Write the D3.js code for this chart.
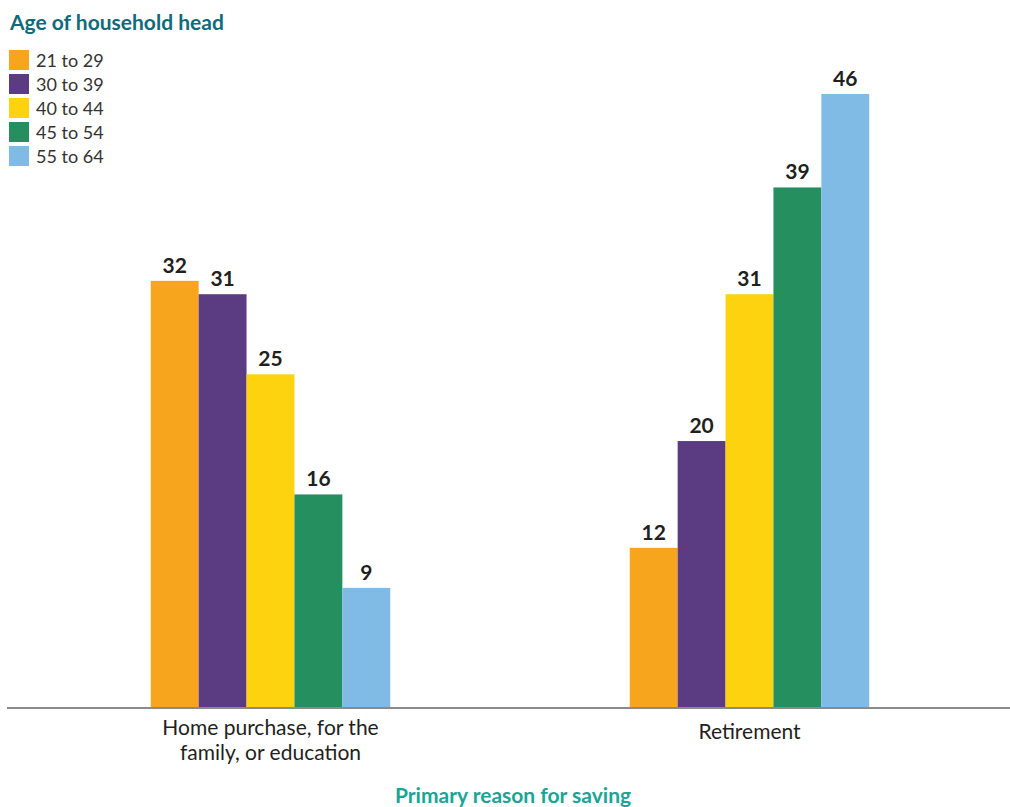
<!DOCTYPE html>
<html><head><meta charset="utf-8">
<script src="https://cdn.jsdelivr.net/npm/d3@7/dist/d3.min.js"></script>
<style>body{margin:0;background:#fff}svg{display:block}</style>
</head><body>
<svg id="c" width="1010" height="807"></svg>
<script>
const categories = ["Home purchase, for the|family, or education", "Retirement"];
const series = ["21 to 29", "30 to 39", "40 to 44", "45 to 54", "55 to 64"];
const homeValues = [32, 31, 25, 16, 9];
const retirementValues = [12, 20, 31, 39, 46];
const colors = ["#f7a51c", "#5b3c83", "#fdd20f", "#258f5f", "#80bbe6"];

const svg = d3.select("#c");
const font = "Lato,'Open Sans',sans-serif";
const data = [homeValues, retirementValues];

const x0 = d3.scaleBand().domain(categories).range([31, 989]).paddingInner(0.5).paddingOuter(0.25);
const x1 = d3.scaleBand().domain(series).range([0, x0.bandwidth()]);
const y = d3.scaleLinear().domain([0, 46]).range([708, 94]);

const g = svg.append("g");
categories.forEach((cat, ci) => {
  const grp = g.append("g").attr("transform", `translate(${x0(cat)},0)`);
  grp.selectAll("rect").data(data[ci]).join("rect")
    .attr("x", (d, i) => x1(series[i]))
    .attr("width", x1.bandwidth())
    .attr("y", d => y(d))
    .attr("height", d => y(0) - y(d))
    .attr("fill", (d, i) => colors[i]);
  grp.selectAll("text").data(data[ci]).join("text")
    .attr("x", (d, i) => x1(series[i]) + x1.bandwidth() / 2)
    .attr("y", d => y(d) - 8)
    .attr("text-anchor", "middle")
    .attr("font-family", font).attr("font-weight", "bold").attr("font-size", 21)
    .attr("fill", "#231f20")
    .text(d => d);
});

// axis
const axis = svg.append("g").attr("transform", `translate(0,${y(0)})`)
  .call(d3.axisBottom(x0).tickSize(0).tickFormat(""));
axis.select(".domain").attr("d", "M7,0H1010").attr("stroke", "#8a8a8a").attr("stroke-width", 2);
axis.selectAll(".tick").each(function(d) {
  const lines = d.split("|");
  const t = d3.select(this).append("text")
    .attr("text-anchor", "middle")
    .attr("font-family", font).attr("font-size", 21).attr("fill", "#231f20");
  const startY = lines.length > 1 ? 27 : 31;
  lines.forEach((l, i) => t.append("tspan").attr("x", 0).attr("y", startY + i * 25).text(l));
});

svg.append("text").attr("x", 513).attr("y", 803).attr("text-anchor", "middle")
  .attr("font-family", font).attr("font-weight", "bold").attr("font-size", 21)
  .attr("fill", "#1aa595").text("Primary reason for saving");

// legend
svg.append("text").attr("x", 10).attr("y", 30)
  .attr("font-family", font).attr("font-weight", "bold").attr("font-size", 21)
  .attr("fill", "#0f6a7c").text("Age of household head");
const leg = svg.append("g");
series.forEach((s, i) => {
  leg.append("rect").attr("x", 9).attr("y", 50 + i * 24).attr("width", 20).attr("height", 20).attr("fill", colors[i]);
  leg.append("text").attr("x", 36).attr("y", 67 + i * 24)
    .attr("font-family", font).attr("font-size", 18).attr("fill", "#333")
    .text(s);
});
</script>
</body></html>
